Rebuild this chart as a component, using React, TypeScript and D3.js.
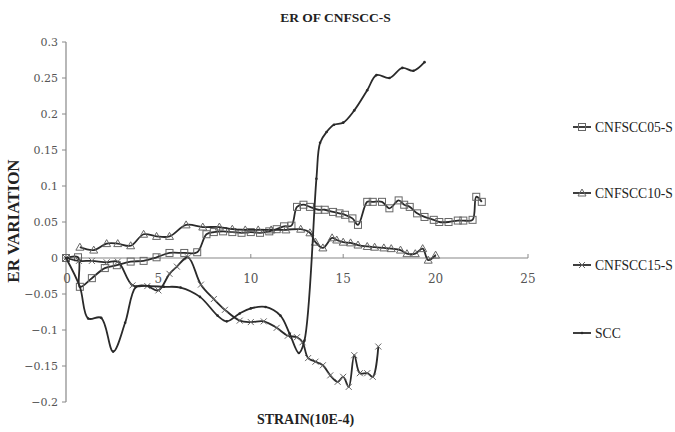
import * as d3 from 'd3';

const title = 'ER OF CNFSCC-S';
const xTitle = 'STRAIN(10E-4)';
const yTitle = 'ER VARIATION';
const xTicks = [0, 5, 10, 15, 20, 25];
const yTicks = [-0.2, -0.15, -0.1, -0.05, 0, 0.05, 0.1, 0.15, 0.2, 0.25, 0.3];
const seriesNames = ['CNFSCC05-S', 'CNFSCC10-S', 'CNFSCC15-S', 'SCC'];

type Pt = [number, number];

const cnf05: Pt[] = [
  [0, 0], [0.65, 0.001], [0.75, -0.04], [1.4, -0.028], [2.1, -0.014], [2.75, -0.01],
  [3.5, -0.005], [4.2, -0.004], [4.9, 0.001], [5.6, 0.007], [6.4, 0.007], [7.1, 0.008],
  [7.6, 0.033], [8.0, 0.036], [8.5, 0.037], [9.0, 0.036], [9.5, 0.035], [10.0, 0.036],
  [10.5, 0.035], [11.0, 0.037], [11.4, 0.04], [11.8, 0.044], [12.2, 0.045], [12.5, 0.071],
  [12.85, 0.074], [13.2, 0.071], [13.65, 0.067], [14.0, 0.067], [14.45, 0.064], [14.8, 0.062],
  [15.1, 0.06], [15.5, 0.055], [15.8, 0.046], [16.3, 0.078], [16.6, 0.078], [17.1, 0.078],
  [17.5, 0.069], [18.0, 0.08], [18.3, 0.074], [18.6, 0.071], [19.0, 0.062], [19.4, 0.057],
  [19.9, 0.053], [20.2, 0.05], [20.7, 0.05], [21.2, 0.052], [21.5, 0.052], [22.0, 0.053],
  [22.2, 0.085], [22.5, 0.078],
];

const cnf10: Pt[] = [
  [0.75, 0.015], [1.5, 0.011], [2.2, 0.02], [2.8, 0.02], [3.5, 0.017], [4.2, 0.033],
  [4.9, 0.03], [5.6, 0.03], [6.5, 0.046], [7.4, 0.043], [8.3, 0.043], [9.0, 0.04],
  [9.7, 0.039], [10.4, 0.039], [11.1, 0.039], [11.9, 0.039], [12.7, 0.04], [13.2, 0.035],
  [13.5, 0.022], [13.9, 0.014], [14.4, 0.028], [14.65, 0.025], [15.0, 0.022], [15.4, 0.021],
  [15.8, 0.018], [16.3, 0.016], [16.7, 0.015], [17.2, 0.014], [17.6, 0.013], [18.1, 0.011],
  [18.45, 0.006], [18.9, 0.006], [19.3, 0.013], [19.6, -0.003], [20.0, 0.004],
];

const cnf15: Pt[] = [
  [0, 0], [0.7, -0.004], [1.4, -0.004], [2.2, -0.006], [2.8, -0.005], [3.6, -0.038],
  [4.4, -0.039], [5.0, -0.045], [5.6, -0.022], [6.0, -0.012], [6.6, 0.001], [7.3, -0.037],
  [8.0, -0.057], [8.6, -0.072], [9.4, -0.087], [10.0, -0.089], [10.7, -0.088], [11.4, -0.097],
  [12.0, -0.108], [12.5, -0.11], [12.8, -0.117], [13.1, -0.139], [13.5, -0.144], [13.9, -0.149],
  [14.3, -0.163], [14.7, -0.172], [15.0, -0.165], [15.3, -0.179], [15.6, -0.135], [15.9, -0.16],
  [16.3, -0.16], [16.6, -0.165], [16.9, -0.123],
];

const scc: Pt[] = [
  [0, 0], [0.75, -0.04], [1.2, -0.084], [1.9, -0.083], [2.55, -0.13], [3.2, -0.09],
  [3.8, -0.04], [4.5, -0.039], [5.3, -0.04], [6.2, -0.041], [7.25, -0.054], [8.2, -0.08],
  [8.7, -0.088], [9.4, -0.077], [10.0, -0.07], [10.8, -0.068], [11.6, -0.08], [12.1, -0.105],
  [12.6, -0.132], [12.9, -0.115], [13.55, 0.11], [13.75, 0.16], [14.1, 0.175], [14.5, 0.185],
  [15.0, 0.188], [15.6, 0.205], [16.3, 0.233], [16.8, 0.254], [17.5, 0.25], [18.2, 0.264],
  [18.8, 0.26], [19.4, 0.272],
];

const W = 675;
const H = 432;
const lineColor = '#2a2a2a';
const markColor = '#666';
const serif = '"Liberation Serif", "Times New Roman", serif';

function Marker({ kind, x, y }: { kind: string; x: number; y: number }) {
  if (kind === 'square')
    return <rect x={x - 3.5} y={y - 3.5} width={7} height={7} fill="none" stroke={markColor} strokeWidth={1} />;
  if (kind === 'triangle')
    return (
      <path d={`M${x},${y - 4}L${x + 4},${y + 3}L${x - 4},${y + 3}Z`} fill="none" stroke={markColor} strokeWidth={1} />
    );
  if (kind === 'x')
    return (
      <path d={`M${x - 3},${y - 3}L${x + 3},${y + 3}M${x + 3},${y - 3}L${x - 3},${y + 3}`} stroke={markColor} strokeWidth={1} />
    );
  return <circle cx={x} cy={y} r={1.3} fill={lineColor} />;
}

export default function App() {
  const x = d3.scaleLinear().domain([0, 25]).range([66, 528]);
  const y = d3.scaleLinear().domain([-0.2, 0.3]).range([402, 42]);
  const line = d3
    .line<Pt>()
    .x(d => x(d[0]))
    .y(d => y(d[1]))
    .curve(d3.curveCatmullRom.alpha(0.5));

  const series = [
    { name: seriesNames[0], data: cnf05, kind: 'square' },
    { name: seriesNames[1], data: cnf10, kind: 'triangle' },
    { name: seriesNames[2], data: cnf15, kind: 'x' },
    { name: seriesNames[3], data: scc, kind: 'dot' },
  ];
  const legendY = [127, 193, 265, 333];

  return (
    <svg
      width={W}
      height={H}
      style={{ position: 'absolute', left: 0, top: 0, background: '#fff' }}
      fontFamily={serif}
    >
      <text x={335.5} y={22} textAnchor="middle" fontWeight="bold" fontSize={13.5} fill="#222">
        {title}
      </text>

      {/* y axis */}
      <line x1={x(0)} x2={x(0)} y1={y(0.3)} y2={y(-0.2)} stroke="#888" strokeWidth={1.2} />
      {yTicks.map(t => (
        <g key={t}>
          <line x1={x(0) - 4} x2={x(0)} y1={y(t)} y2={y(t)} stroke="#888" />
          <text
            x={58}
            y={y(t) + 4}
            textAnchor="end"
            fontSize={11}
            fontFamily='"DejaVu Serif", serif'
            fill="#555"
          >
            {d3.format('')(+t.toFixed(2)).replace('-', '−')}
          </text>
        </g>
      ))}

      {/* x axis at zero */}
      <line x1={x(0)} x2={x(25)} y1={y(0)} y2={y(0)} stroke="#888" strokeWidth={1.2} />
      {xTicks.map(t => (
        <g key={t}>
          <line x1={x(t)} x2={x(t)} y1={y(0) - 4} y2={y(0)} stroke="#888" />
          <text
            x={x(t) + (t === 0 ? 1 : 0)}
            y={283}
            textAnchor="middle"
            fontSize={12}
            fontFamily='"DejaVu Serif", serif'
            fill="#555"
          >
            {t}
          </text>
        </g>
      ))}

      {series.map(s => (
        <g key={s.name}>
          <path d={line(s.data) ?? ''} fill="none" stroke={lineColor} strokeWidth={1.8} />
          {s.data.map((d, i) => (
            <Marker key={i} kind={s.kind} x={x(d[0])} y={y(d[1])} />
          ))}
        </g>
      ))}

      <text
        transform={`translate(18.5,221) rotate(-90)`}
        textAnchor="middle"
        fontWeight="bold"
        fontSize={17}
        fill="#222"
      >
        {yTitle}
      </text>
      <text x={305.5} y={424} textAnchor="middle" fontWeight="bold" fontSize={14} fill="#222">
        {xTitle}
      </text>

      {series.map((s, i) => (
        <g key={s.name}>
          <line x1={573} x2={591} y1={legendY[i]} y2={legendY[i]} stroke={lineColor} strokeWidth={1.8} />
          <Marker kind={s.kind} x={582} y={legendY[i]} />
          <text x={595} y={legendY[i] + 5} fontSize={13.6} fill="#222">
            {s.name}
          </text>
        </g>
      ))}
    </svg>
  );
}
